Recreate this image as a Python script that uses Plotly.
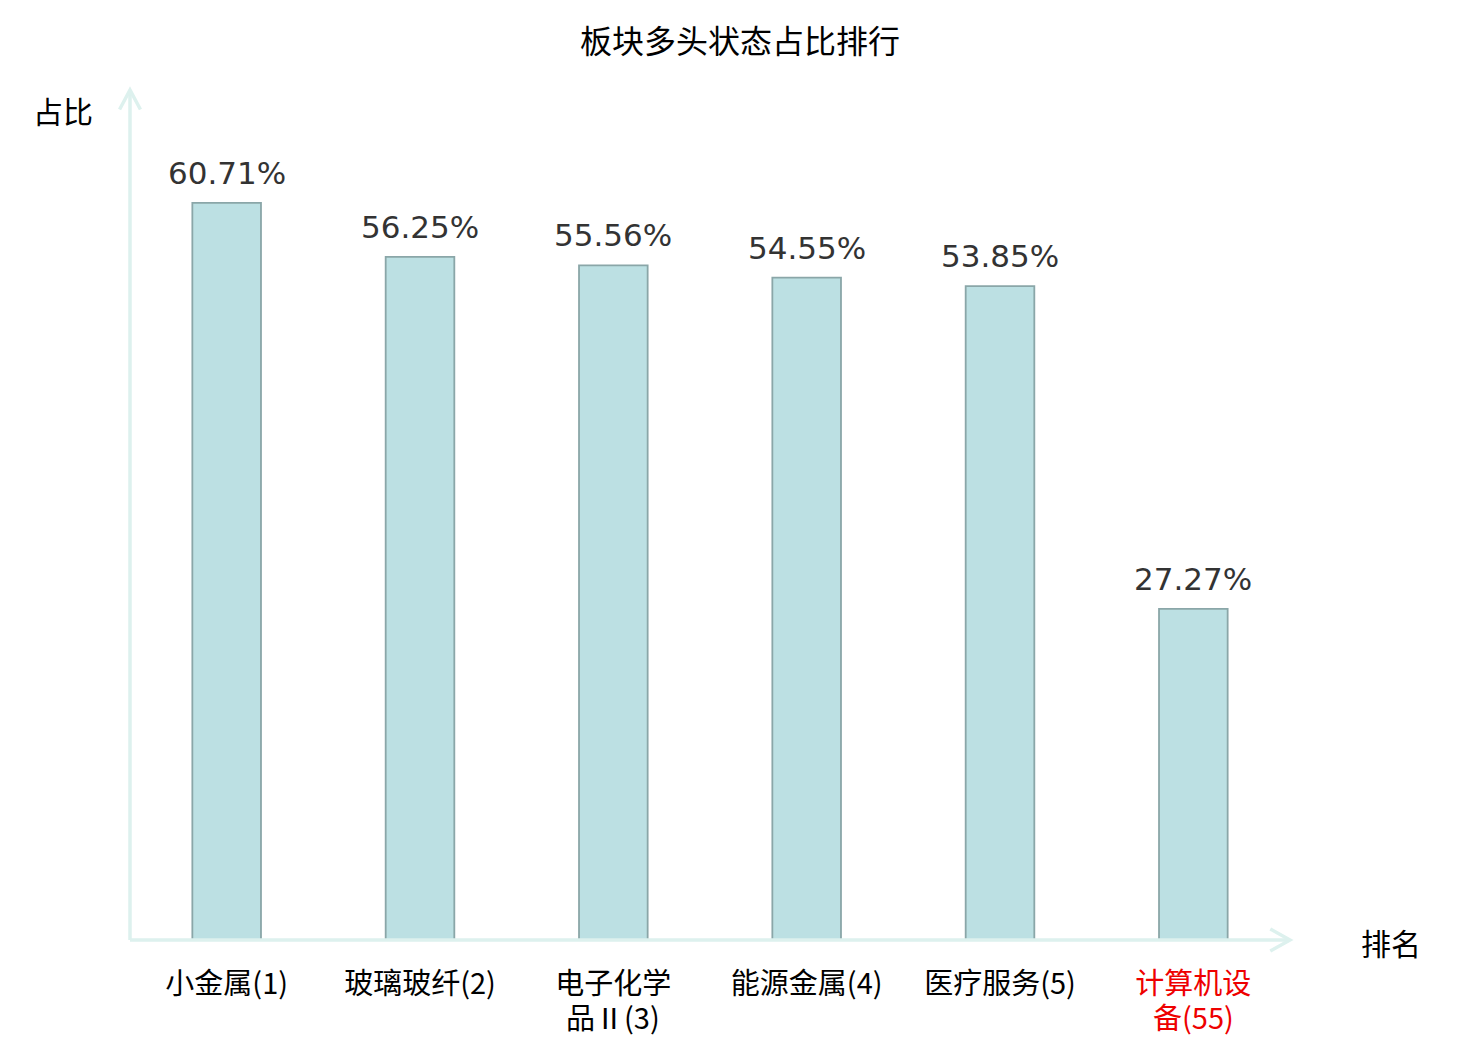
import plotly.graph_objects as go

# 板块数据
categories = ["小金属(1)", "玻璃玻纤(2)", "电子化学<br>品Ⅱ(3)", "能源金属(4)", "医疗服务(5)", "计算机设<br>备(55)"]
ratios = [60.71, 56.25, 55.56, 54.55, 53.85, 27.27]
highlight = [False, False, False, False, False, True]

positions = list(range(len(categories)))
labels = [f"{v:.2f}%" for v in ratios]

axis_color = "#DDF1EE"
cjk = "Noto Sans CJK SC"


def colored(text, red):
    return f"<span style='color:#EE0000'>{text}</span>" if red else text


# 刻度标签第一行放在轴上，第二行用注释（行距更紧凑）
first_lines = [colored(c.split("<br>")[0], h) for c, h in zip(categories, highlight)]

fig = go.Figure(data=[go.Bar(
    x=positions, y=ratios, width=0.355,
    marker=dict(color="#BCE0E3", line=dict(color="#8AA6A8", width=1.8)),
    hoverinfo="skip",
)])

for p, c, h in zip(positions, categories, highlight):
    parts = c.split("<br>")
    if len(parts) > 1:
        fig.add_annotation(x=p, xref="x", yref="paper", y=0, yshift=-76, text=colored(parts[1], h),
                           showarrow=False, xanchor="center", yanchor="middle",
                           font=dict(family=cjk, size=29, color="#000000"))

# 柱顶数值标签
for p, v, t in zip(positions, ratios, labels):
    fig.add_annotation(x=p, y=v, text=t, showarrow=False, xanchor="center", yanchor="bottom", yshift=10,
                       font=dict(family="DejaVu Sans", size=31, color="#333333"))

# 坐标轴线和箭头
fig.add_shape(type="line", xref="paper", yref="paper", x0=0, y0=0, x1=1, y1=0,
              line=dict(color=axis_color, width=3.5))
fig.add_shape(type="line", xref="paper", yref="paper", x0=0, y0=0, x1=0, y1=1,
              line=dict(color=axis_color, width=3.5))
fig.add_shape(type="path", xref="paper", yref="paper",
              path="M 0.983,0.013 L 1,0 L 0.983,-0.013",
              line=dict(color=axis_color, width=3.5))
fig.add_shape(type="path", xref="paper", yref="paper",
              path="M -0.009,0.977 L 0,1 L 0.009,0.977",
              line=dict(color=axis_color, width=3.5))

fig.add_annotation(xref="paper", yref="paper", x=-0.058, y=0.976, text="占比", showarrow=False,
                   xanchor="center", yanchor="middle",
                   font=dict(family=cjk, size=30, color="#000000"))
fig.add_annotation(xref="paper", yref="paper", x=1.087, y=-0.002, text="排名", showarrow=False,
                   xanchor="center", yanchor="middle",
                   font=dict(family=cjk, size=30, color="#000000"))

fig.update_layout(
    width=1472, height=1032,
    title=dict(text="板块多头状态占比排行", x=0.4973, xanchor="center", y=1 - 34 / 1032, yanchor="middle",
               font=dict(family=cjk, size=32, color="#000000")),
    margin=dict(l=122, r=190, t=82, b=100, autoexpand=False),
    plot_bgcolor="white", paper_bgcolor="white",
    xaxis=dict(range=[-0.5, 5.5], tickvals=positions, ticktext=first_lines, showgrid=False,
               zeroline=False, showline=False, ticks="", ticklabelstandoff=24, automargin=False,
               tickfont=dict(family=cjk, size=29, color="#000000")),
    yaxis=dict(range=[0, 70], showticklabels=False, showgrid=False, zeroline=False, showline=False,
               automargin=False),
    showlegend=False,
)

fig.write_html("out.html")
